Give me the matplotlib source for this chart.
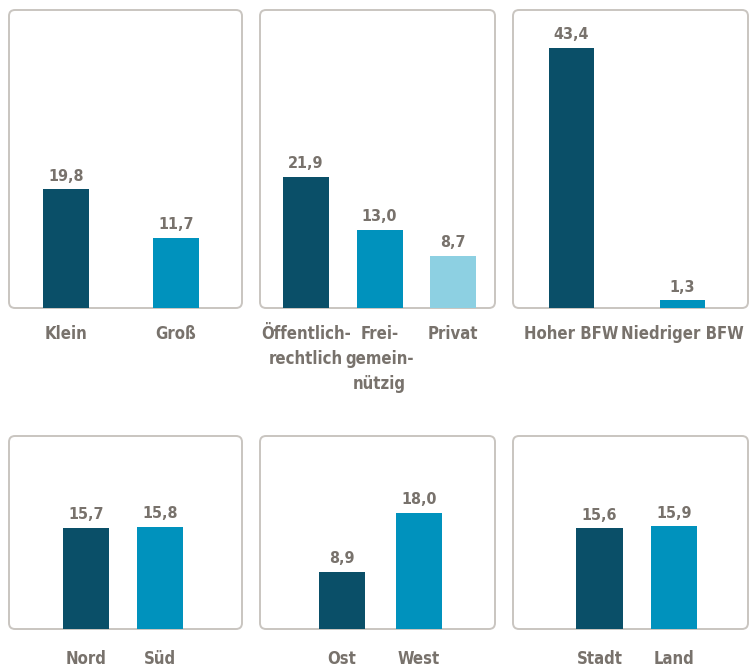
import matplotlib.pyplot as plt
import matplotlib.patheffects as pe
from matplotlib import font_manager as fm
from matplotlib.patches import FancyBboxPatch

# data
cats_groesse = ['Klein', 'Groß']
vals_groesse = [19.8, 11.7]
cats_traeger = ['Öffentlich-\nrechtlich', 'Frei-\ngemein-\nnützig', 'Privat']
vals_traeger = [21.9, 13.0, 8.7]
cats_bfw = ['Hoher BFW', 'Niedriger BFW']
vals_bfw = [43.4, 1.3]
cats_ns = ['Nord', 'Süd']
vals_ns = [15.7, 15.8]
cats_ow = ['Ost', 'West']
vals_ow = [8.9, 18.0]
cats_sl = ['Stadt', 'Land']
vals_sl = [15.6, 15.9]

DARK = '#0a4f68'
MID = '#0092bd'
LIGHT = '#8dd0e2'
TEXT = '#78726c'
BOX = '#c9c5c0'

# the reference uses a bold condensed sans; take the best narrow face there is
narrow, narrow_bold = None, None
for f in fm.fontManager.ttflist:
    is_narrow = ('Narrow' in f.name or 'Condensed' in f.name
                 or f.stretch in ('condensed', 'semi-condensed'))
    if not is_narrow:
        continue
    w = f.weight if isinstance(f.weight, int) else (700 if 'bold' in str(f.weight) else 400)
    if w >= 600 and narrow_bold is None:
        narrow_bold = f.name
    if narrow is None:
        narrow = f.name

if narrow_bold:
    plt.rcParams['font.family'] = [narrow_bold, 'DejaVu Sans']
    plt.rcParams['font.stretch'] = 'condensed'
    WEIGHT, FX = 'bold', []
else:
    plt.rcParams['font.family'] = [narrow or 'DejaVu Sans', 'DejaVu Sans']
    WEIGHT = 'normal'
    FX = [pe.withStroke(linewidth=0.7, foreground=TEXT)]
FS_VAL = 11.5
FS_CAT = 12

W, H = 750, 669
fig = plt.figure(figsize=(W / 100, H / 100), dpi=100)

# (cats, vals, colors, box px [x0, x1, y_top, y_bottom], xlim, bar width, ylim top, label pad)
panels = [
    (cats_groesse, vals_groesse, [DARK, MID], [9, 242, 10, 308], (-0.518, 1.6), 0.42, 49.7, 12),
    (cats_traeger, vals_traeger, [DARK, MID, LIGHT], [260, 495, 10, 308], (-0.626, 2.57), 0.626, 49.7, 12),
    (cats_bfw, vals_bfw, [DARK, MID], [513, 748, 10, 308], (-0.527, 1.59), 0.414, 49.7, 12),
    (cats_ns, vals_ns, [DARK, MID], [9, 242, 436, 629], (-1.04, 2.11), 0.62, 29.9, 15),
    (cats_ow, vals_ow, [DARK, MID], [260, 495, 436, 629], (-1.065, 1.99), 0.6, 29.9, 15),
    (cats_sl, vals_sl, [DARK, MID], [513, 748, 436, 629], (-1.16, 1.99), 0.62, 29.9, 15),
]

for cats, vals, cols, (x0, x1, yt, yb), xlim, bw, ytop, pad in panels:
    left, bottom = x0 / W, 1 - yb / H
    width, height = (x1 - x0) / W, (yb - yt) / H
    box = FancyBboxPatch((left, bottom), width, height,
                         boxstyle='round,pad=0,rounding_size=%f' % (6 / W),
                         mutation_aspect=W / H, transform=fig.transFigure,
                         facecolor='white', edgecolor=BOX, linewidth=1.4, zorder=-1)
    fig.patches.append(box)

    ax = fig.add_axes([left, bottom, width, height])
    ax.patch.set_visible(False)
    x = list(range(len(vals)))
    ax.bar(x, vals, width=bw, color=cols, zorder=2)
    for xi, v in zip(x, vals):
        ax.annotate(f'{v:.1f}'.replace('.', ','), (xi, v), xytext=(0, 4),
                    textcoords='offset points', ha='center', va='bottom',
                    fontsize=FS_VAL, color=TEXT, fontweight=WEIGHT, path_effects=FX)
    ax.set_xlim(*xlim)
    ax.set_ylim(0, ytop)
    ax.set_xticks(x)
    ax.set_xticklabels(cats, fontsize=FS_CAT, color=TEXT, fontweight=WEIGHT,
                       linespacing=1.5, path_effects=FX)
    ax.tick_params(axis='x', length=0, pad=pad)
    ax.set_yticks([])
    for s in ax.spines.values():
        s.set_visible(False)

fig.savefig('out.png', dpi=100)
